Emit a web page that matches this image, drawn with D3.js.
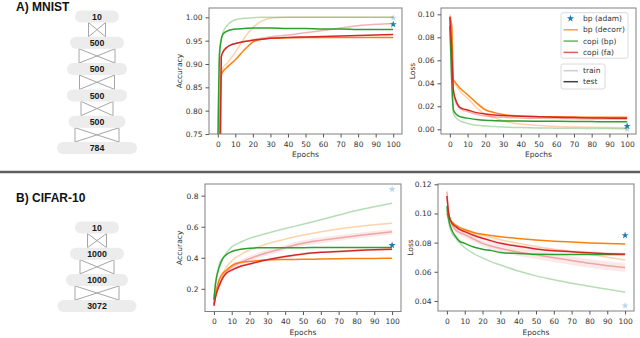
<!DOCTYPE html>
<html>
<head>
<meta charset="utf-8">
<script src="https://cdn.jsdelivr.net/npm/d3@7"></script>
<style>
body{margin:0;background:#fff}
svg text{font-family:"DejaVu Sans",sans-serif}
.net text, .title{font-family:"Liberation Sans",Arial,sans-serif}
</style>
</head>
<body>
<div class="fig-wrapper"></div>
<script>

// ---- data ----

const epochs = [0,1,2,3,5,7,10,15,20,25,30,40,50,60,70,80,90,100]

// A) MNIST accuracy
const mnistAccBpDecorrTrain = [0.10,0.72,0.880,0.892,0.900,0.910,0.925,0.955,0.978,0.992,0.998,1.000,1.000,1.000,1.000,1.000,1.000,1.000]
const mnistAccBpDecorrTest  = [0.10,0.72,0.876,0.884,0.892,0.899,0.909,0.930,0.947,0.953,0.955,0.956,0.957,0.957,0.957,0.957,0.957,0.957]
const mnistAccCopiBpTrain   = [0.70,0.930,0.955,0.968,0.981,0.989,0.995,0.998,0.999,1.000,1.000,1.000,1.000,1.000,1.000,1.000,1.000,1.000]
const mnistAccCopiBpTest    = [0.70,0.920,0.952,0.964,0.970,0.973,0.975,0.976,0.977,0.977,0.977,0.976,0.976,0.975,0.975,0.974,0.974,0.974]
const mnistAccCopiFaTrain   = [0.10,0.55,0.915,0.926,0.935,0.940,0.944,0.948,0.952,0.955,0.958,0.962,0.967,0.972,0.977,0.982,0.985,0.987]
const mnistAccCopiFaTest    = [0.10,0.50,0.915,0.926,0.935,0.940,0.944,0.948,0.951,0.953,0.955,0.957,0.958,0.959,0.960,0.961,0.962,0.963]
const mnistAccAdam = [0.999, 0.985] // train, test

// A) MNIST loss
const mnistLossBpDecorrTrain = [0.100,0.092,0.042,0.039,0.035,0.031,0.027,0.019,0.013,0.0100,0.0075,0.0045,0.0033,0.0025,0.0020,0.0017,0.0015,0.0014]
const mnistLossBpDecorrTest  = [0.097,0.090,0.043,0.041,0.037,0.034,0.030,0.023,0.017,0.0145,0.0128,0.0115,0.0110,0.0108,0.0106,0.0105,0.0104,0.0104]
const mnistLossCopiBpTrain   = [0.090,0.040,0.014,0.011,0.008,0.0065,0.005,0.0035,0.0028,0.0024,0.0020,0.0015,0.0012,0.0010,0.0008,0.0007,0.0006,0.0005]
const mnistLossCopiBpTest    = [0.090,0.045,0.017,0.014,0.0115,0.0105,0.0097,0.0085,0.0078,0.0075,0.0073,0.0071,0.0070,0.0069,0.0068,0.0067,0.0066,0.0066]
const mnistLossCopiFaTrain   = [0.098,0.068,0.033,0.025,0.019,0.017,0.0155,0.0130,0.0115,0.0108,0.0104,0.0098,0.0095,0.0093,0.0091,0.0090,0.0089,0.0088]
const mnistLossCopiFaTest    = [0.098,0.070,0.034,0.027,0.020,0.018,0.0168,0.0145,0.0133,0.0125,0.0120,0.0113,0.0110,0.0105,0.0102,0.0099,0.0097,0.0095]
const mnistLossAdam = [0.0003, 0.0028]

// B) CIFAR-10 accuracy
const cifarAccBpDecorrTrain = [0.10,0.17,0.22,0.26,0.30,0.34,0.38,0.42,0.45,0.47,0.49,0.52,0.547,0.567,0.585,0.600,0.612,0.622]
const cifarAccBpDecorrTest  = [0.10,0.17,0.22,0.26,0.30,0.32,0.35,0.37,0.376,0.382,0.387,0.389,0.390,0.392,0.394,0.395,0.396,0.397]
const cifarAccCopiBpTrain   = [0.13,0.25,0.31,0.36,0.40,0.43,0.47,0.50,0.526,0.542,0.558,0.588,0.616,0.645,0.675,0.704,0.728,0.751]
const cifarAccCopiBpTest    = [0.13,0.24,0.30,0.34,0.395,0.42,0.44,0.455,0.462,0.464,0.465,0.465,0.465,0.466,0.466,0.466,0.466,0.466]
const cifarAccCopiFaTrain   = [0.10,0.16,0.20,0.23,0.28,0.31,0.34,0.37,0.394,0.415,0.433,0.465,0.494,0.512,0.528,0.542,0.555,0.568]
const cifarAccCopiFaTest    = [0.09,0.15,0.19,0.22,0.27,0.30,0.32,0.345,0.36,0.375,0.387,0.408,0.425,0.435,0.441,0.447,0.451,0.455]
const cifarAccFaTrainSpread = [0.004,0.008,0.010,0.012,0.014,0.015,0.016,0.017,0.017,0.018,0.018,0.018,0.018,0.018,0.018,0.018,0.018,0.018]
const cifarAccFaTestSpread  = [0.003,0.005,0.006,0.007,0.008,0.008,0.008,0.008,0.008,0.008,0.008,0.008,0.008,0.008,0.008,0.008,0.008,0.008]
const cifarAccAdam = [0.841, 0.481]

// B) CIFAR-10 loss
const cifarLossBpDecorrTrain = [0.100,0.097,0.095,0.094,0.0915,0.090,0.0885,0.0865,0.085,0.0835,0.082,0.0795,0.0773,0.0755,0.0738,0.0720,0.0700,0.0680]
const cifarLossBpDecorrTest  = [0.100,0.097,0.095,0.094,0.092,0.0905,0.0890,0.0870,0.0857,0.0848,0.0840,0.0828,0.0818,0.0810,0.0804,0.0798,0.0794,0.0790]
const cifarLossCopiBpTrain   = [0.1024,0.094,0.089,0.086,0.083,0.080,0.0765,0.0725,0.0695,0.0668,0.0647,0.0605,0.0572,0.0545,0.0522,0.0500,0.0480,0.0460]
const cifarLossCopiBpTest    = [0.105,0.096,0.091,0.088,0.084,0.081,0.0795,0.0770,0.0755,0.0745,0.0733,0.0725,0.0720,0.0719,0.0718,0.0718,0.0718,0.0718]
const cifarLossCopiFaTrain   = [0.115,0.100,0.095,0.092,0.0887,0.087,0.0855,0.0825,0.0795,0.0775,0.0760,0.0735,0.0716,0.0697,0.0677,0.0658,0.0642,0.0630]
const cifarLossCopiFaTest    = [0.112,0.100,0.0955,0.093,0.091,0.089,0.0875,0.0850,0.0830,0.0812,0.0796,0.0775,0.0757,0.0745,0.0738,0.0730,0.0724,0.0720]
const cifarLossFaTrainSpread = [0.004,0.003,0.002,0.002,0.002,0.002,0.002,0.002,0.002,0.0022,0.0024,0.0026,0.0028,0.003,0.003,0.003,0.003,0.003]
const cifarLossFaTestSpread  = [0.003,0.002,0.0012,0.0012,0.0012,0.0012,0.0012,0.0012,0.0012,0.0012,0.0012,0.0012,0.0012,0.0012,0.0012,0.0012,0.0012,0.0012]
const cifarLossAdam = [0.0367, 0.085]

// ticks
const epochTicks = [0,10,20,30,40,50,60,70,80,90,100]
const mnistAccTicks = [0.75,0.80,0.85,0.90,0.95,1.00]
const mnistLossTicks = [0.00,0.02,0.04,0.06,0.08,0.10]
const cifarAccTicks = [0.2,0.4,0.6,0.8]
const cifarLossTicks = [0.04,0.06,0.08,0.10,0.12]

// networks
const mnistLayers = ['10','500','500','500','500','784']
const cifarLayers = ['10','1000','1000','3072']

const methods = ['bp (adam)','bp (decorr)','copi (bp)','copi (fa)']

// ---- styles / layout ----

const colors = {adam:'#1f77b4', bpDecorr:'#ff7f0e', copiBp:'#2ca02c', copiFa:'#d62728'}
const trainOpacity = 0.35

const svg = d3.select('.fig-wrapper')
.append('svg')
.attr('width', 640)
.attr('height', 338)

const panels = [
	{id:'mnist-acc', frame:{left:209, top:8, right:402, bottom:134}, yDomain:[0.75, 1.02], yTicks:mnistAccTicks, yFormat:'.2f', ylabel:'Accuracy',
	 series:[[mnistAccBpDecorrTrain, mnistAccBpDecorrTest, 'bpDecorr'], [mnistAccCopiBpTrain, mnistAccCopiBpTest, 'copiBp'], [mnistAccCopiFaTrain, mnistAccCopiFaTest, 'copiFa']],
	 adam:mnistAccAdam, labelX:179, tickY:147, epochsY:157},
	{id:'mnist-loss', frame:{left:441, top:8, right:636, bottom:134}, yDomain:[-0.0041, 0.1055], yTicks:mnistLossTicks, yFormat:'.2f', ylabel:'Loss',
	 series:[[mnistLossBpDecorrTrain, mnistLossBpDecorrTest, 'bpDecorr'], [mnistLossCopiBpTrain, mnistLossCopiBpTest, 'copiBp'], [mnistLossCopiFaTrain, mnistLossCopiFaTest, 'copiFa']],
	 adam:mnistLossAdam, labelX:412, tickY:147, epochsY:157, legend:true},
	{id:'cifar-acc', frame:{left:205, top:184, right:401, bottom:311.5}, yDomain:[0.054, 0.875], yTicks:cifarAccTicks, yFormat:'.1f', ylabel:'Accuracy',
	 series:[[cifarAccBpDecorrTrain, cifarAccBpDecorrTest, 'bpDecorr'], [cifarAccCopiBpTrain, cifarAccCopiBpTest, 'copiBp'], [cifarAccCopiFaTrain, cifarAccCopiFaTest, 'copiFa', cifarAccFaTrainSpread, cifarAccFaTestSpread]],
	 adam:cifarAccAdam, labelX:179, tickY:324, epochsY:334.5},
	{id:'cifar-loss', frame:{left:438, top:184, right:634, bottom:311}, yDomain:[0.0331, 0.1202], yTicks:cifarLossTicks, yFormat:'.2f', ylabel:'Loss',
	 series:[[cifarLossBpDecorrTrain, cifarLossBpDecorrTest, 'bpDecorr'], [cifarLossCopiBpTrain, cifarLossCopiBpTest, 'copiBp'], [cifarLossCopiFaTrain, cifarLossCopiFaTest, 'copiFa', cifarLossFaTrainSpread, cifarLossFaTestSpread]],
	 adam:cifarLossAdam, labelX:410, tickY:324, epochsY:334.5}
]

// ---- titles, separator ----

svg.append('text').attr('class','title').attr('x', 16).attr('y', 10.5)
.style('font-size','12px').style('font-weight','bold').attr('fill','#111').text('A) MNIST')

svg.append('text').attr('class','title').attr('x', 16).attr('y', 202)
.style('font-size','12px').style('font-weight','bold').attr('fill','#111').text('B) CIFAR-10')

svg.append('line').attr('x1', 0).attr('x2', 640).attr('y1', 172).attr('y2', 172)
.attr('stroke', '#5f5f5f').attr('stroke-width', 2.5)

// ---- network diagrams ----

const drawNet = (layers, layout) => {
	const g = svg.append('g').attr('class','net')
	const pillY = i => layout.top + i * layout.step

	layers.slice(0, -1).forEach((d, i) => {
		const w = layout.linkW[i] / 2
		const y0 = pillY(i) + layout.pillH, y1 = pillY(i + 1)
		const cx = layout.cx
		g.append('path')
		.attr('d', `M${cx - w},${y0}V${y1}M${cx + w},${y0}V${y1}M${cx - w},${y0}L${cx + w},${y1}M${cx + w},${y0}L${cx - w},${y1}`)
		.attr('fill','none').attr('stroke','#a6a6a6').attr('stroke-width', 1)
	})

	layers.forEach((d, i) => {
		const w = layout.pillW[i]
		g.append('rect')
		.attr('x', layout.cx - w / 2).attr('y', pillY(i))
		.attr('width', w).attr('height', layout.pillH)
		.attr('rx', layout.pillH / 2)
		.attr('fill', '#ececec')

		g.append('text')
		.attr('x', layout.cx).attr('y', pillY(i) + layout.pillH / 2 + 3.2)
		.attr('text-anchor','middle')
		.style('font-size','8.8px').style('font-weight','bold')
		.attr('fill','#1a1a1a')
		.text(d)
	})
}

drawNet(mnistLayers, {cx:97, top:10.5, step:26.3, pillH:12, pillW:[44,54,60,60,57,80], linkW:[17,36,35,32,44]})
drawNet(cifarLayers, {cx:97, top:221.5, step:26.2, pillH:12, pillW:[44,54,62,79], linkW:[19,34,44]})

// ---- chart panels ----

const star = d3.symbol().type(d3.symbolStar).size(16)

panels.forEach(p => {
	const f = p.frame
	const g = svg.append('g').attr('id', p.id)

	const xScale = d3.scaleLinear().domain([-5, 105]).range([f.left, f.right])
	const yScale = d3.scaleLinear().domain(p.yDomain).range([f.bottom, f.top])

	g.append('clipPath').attr('id', 'clip-' + p.id)
	.append('rect').attr('x', f.left).attr('y', f.top).attr('width', f.right - f.left).attr('height', f.bottom - f.top)

	const plot = g.append('g').attr('clip-path', `url(#clip-${p.id})`)

	const line = d3.line()
	.curve(d3.curveMonotoneX)
	.x((d, i) => xScale(epochs[i]))
	.y(d => yScale(d))

	const area = d3.area()
	.curve(d3.curveMonotoneX)
	.x((d, i) => xScale(epochs[i]))

	p.series.forEach(s => {
		const [train, test, key, trainSpread, testSpread] = s
		if (trainSpread) {
			plot.append('path')
			.attr('d', area.y0((d, i) => yScale(d - trainSpread[i])).y1((d, i) => yScale(d + trainSpread[i]))(train))
			.attr('fill', colors[key]).attr('fill-opacity', 0.1)
		}
		if (testSpread) {
			plot.append('path')
			.attr('d', area.y0((d, i) => yScale(d - testSpread[i])).y1((d, i) => yScale(d + testSpread[i]))(test))
			.attr('fill', colors[key]).attr('fill-opacity', 0.1)
		}
		plot.append('path').attr('d', line(train))
		.attr('fill','none').attr('stroke', colors[key]).attr('stroke-opacity', trainOpacity).attr('stroke-width', 1.5)
	})

	p.series.forEach(s => {
		const [train, test, key] = s
		plot.append('path').attr('d', line(test))
		.attr('fill','none').attr('stroke', colors[key]).attr('stroke-width', 1.5)
	})

	// adam stars at the last epoch
	p.adam.forEach((v, i) => {
		g.append('path')
		.attr('d', star())
		.attr('transform', `translate(${xScale(100)},${yScale(v)})`)
		.attr('fill', colors.adam)
		.attr('fill-opacity', i == 0 ? 0.3 : 1)
	})

	// frame
	g.append('rect')
	.attr('x', f.left).attr('y', f.top).attr('width', f.right - f.left).attr('height', f.bottom - f.top)
	.attr('fill','none').attr('stroke','#808080').attr('stroke-width', 1)

	let xaxis = g.append('g')
	.attr('transform', `translate(0,${f.bottom})`)
	.call(d3.axisBottom(xScale).tickValues(epochTicks).tickSize(3.5).tickPadding(2))
	xaxis.select('.domain').remove()
	xaxis.selectAll('line').attr('stroke', '#555')
	xaxis.selectAll('text').attr('fill', '#333').style('font-size', '7.5px').style('font-family', '"DejaVu Sans",sans-serif')
	.attr('y', null).attr('dy', null)
	.attr('y', p.tickY - f.bottom)

	let yaxis = g.append('g')
	.attr('transform', `translate(${f.left},0)`)
	.call(d3.axisLeft(yScale).tickValues(p.yTicks).tickFormat(d3.format(p.yFormat)).tickSize(3.5).tickPadding(3))
	yaxis.select('.domain').remove()
	yaxis.selectAll('line').attr('stroke', '#555')
	yaxis.selectAll('text').attr('fill', '#333').style('font-size', '7.5px').style('font-family', '"DejaVu Sans",sans-serif')

	g.append('text')
	.attr('x', (xScale(0) + xScale(100)) / 2).attr('y', p.epochsY)
	.attr('text-anchor','middle').style('font-size','7.5px').attr('fill','#333')
	.text('Epochs')

	g.append('text')
	.attr('transform', `translate(${p.labelX},${(f.top + f.bottom) / 2}) rotate(-90)`)
	.attr('text-anchor','middle').attr('dy', '0.35em').style('font-size','7.5px').attr('fill','#333')
	.text(p.ylabel)

	if (p.legend) {
		const lg = g.append('g')
		lg.append('rect').attr('x', 561).attr('y', 12.7).attr('width', 67).attr('height', 45.5).attr('rx', 2)
		.attr('fill','#fff').attr('fill-opacity', 0.8).attr('stroke','#d0d0d0').attr('stroke-width', 0.8)

		const keys = ['adam','bpDecorr','copiBp','copiFa']
		methods.forEach((m, i) => {
			const y = 18.5 + i * 11.3
			if (i == 0) {
				lg.append('path').attr('d', star()).attr('transform', `translate(570.5,${y})`).attr('fill', colors.adam)
			} else {
				lg.append('line').attr('x1', 563.5).attr('x2', 578).attr('y1', y).attr('y2', y)
				.attr('stroke', colors[keys[i]]).attr('stroke-opacity', 0.75).attr('stroke-width', 1.5)
			}
			lg.append('text').attr('x', 583).attr('y', y).attr('dy','0.35em')
			.style('font-size','7.5px').attr('fill','#333').text(m)
		})

		lg.append('rect').attr('x', 561).attr('y', 64).attr('width', 44).attr('height', 25).attr('rx', 2)
		.attr('fill','#fff').attr('fill-opacity', 0.8).attr('stroke','#d0d0d0').attr('stroke-width', 0.8)

		;[['train', '#000', 0.2], ['test', '#000', 0.75]].forEach((d, i) => {
			const y = 70.7 + i * 11
			lg.append('line').attr('x1', 563.5).attr('x2', 578).attr('y1', y).attr('y2', y)
			.attr('stroke', d[1]).attr('stroke-opacity', d[2]).attr('stroke-width', 1.5)
			lg.append('text').attr('x', 583).attr('y', y).attr('dy','0.35em')
			.style('font-size','7.5px').attr('fill','#333').text(d[0])
		})
	}
})

</script>
</body>
</html>
